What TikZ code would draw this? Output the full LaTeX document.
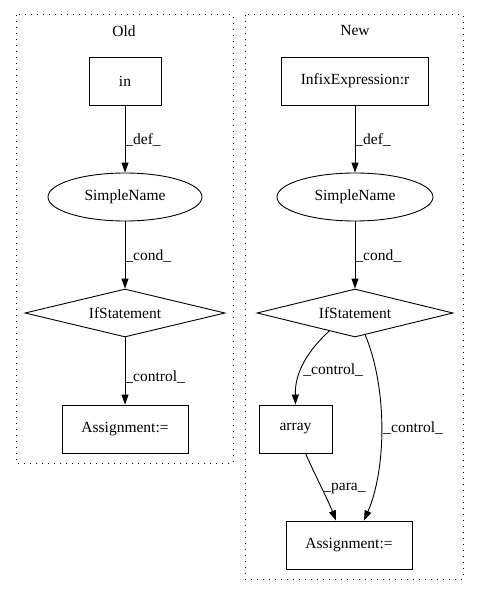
\documentclass[tikz,border=0pt]{standalone}
\usepackage{fontspec}
\setmainfont{Liberation Serif}
\usetikzlibrary{shapes.geometric,arrows.meta}

\begin{document}
\begin{tikzpicture}[x=1pt,y=-1pt,font=\fontsize{15.5}{18}\selectfont,line width=0.9pt,
    box/.style={draw, minimum height=48pt, inner sep=0pt},
    oval/.style={draw, ellipse, minimum width=154pt, minimum height=48pt, inner sep=0pt},
    cond/.style={draw, diamond, aspect=4, minimum height=48pt, inner sep=0pt},
    cluster/.style={line width=1pt, dash pattern=on 1pt off 5pt},
    lbl/.style={anchor=west, inner sep=0pt},
    edge/.style={-{Triangle[length=10pt,width=7pt]}}]
                \useasboundingbox (0,0) rectangle (480,596);
                \draw[cluster] (16,15) rectangle (233,463);
                \draw[cluster] (245,15) rectangle (463,579);
                \node (old) at (124,31) {Old};
                \node (new) at (355,31) {New};
                \node[box, minimum width=72pt] (in) at (125,81) {in};
                \node[oval] (sn1) at (125,197) {SimpleName};
                \node[cond, minimum width=200pt] (if1) at (125,313) {IfStatement};
                \node[box, minimum width=126pt] (asg1) at (125,429) {Assignment:=};
                \node[box, minimum width=147pt] (infix) at (355,81) {InfixExpression:r};
                \node[oval, minimum width=156pt] (sn2) at (355,197) {SimpleName};
                \node[cond, minimum width=196pt] (if2) at (355,313) {IfStatement};
                \node[box, minimum width=73pt] (arr) at (295.5,429) {array};
                \node[box, minimum width=126pt] (asg2) at (349,545) {Assignment:=};
                \draw[edge] (in) -- (sn1) node[lbl] at (125,140) {\_def\_};
                \draw[edge] (sn1) -- (if1) node[lbl] at (125,256) {\_cond\_};
                \draw[edge] (if1) -- (asg1) node[lbl] at (125,377) {\_control\_};
                \draw[edge] (infix) -- (sn2) node[lbl] at (355,140) {\_def\_};
                \draw[edge] (sn2) -- (if2) node[lbl] at (355,256) {\_cond\_};
                \draw[edge] (if2.-145) .. controls (300,358) and (295,380) .. (arr.north);
                \node[lbl] (c1) at (303,370) {\_control\_};
                \draw[edge] (if2.-65) .. controls (388,390) and (386,470) .. ([xshift=15pt]asg2.north);
                \node[lbl] (c2) at (383,428) {\_control\_};
                \draw[edge] ([xshift=10pt]arr.south) .. controls (315,475) and (328,500) .. ([xshift=-13pt]asg2.north);
                \node[lbl] (p1) at (323,488) {\_para\_};
            \end{tikzpicture}
\end{document}
